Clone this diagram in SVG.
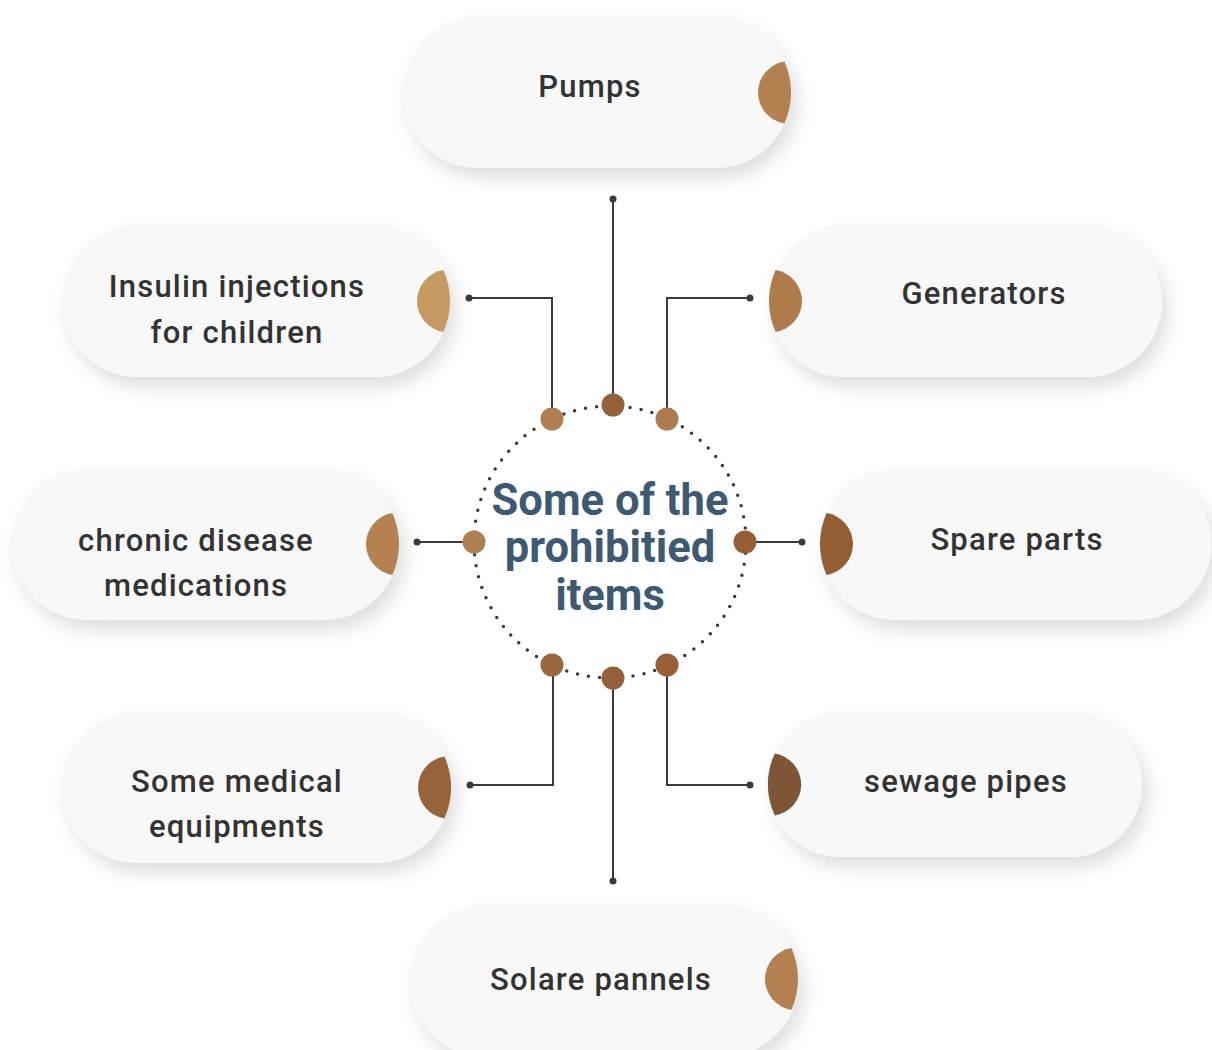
<svg xmlns="http://www.w3.org/2000/svg" width="1212" height="1050" viewBox="0 0 1212 1050">
<defs>
<filter id="sh" x="-20%" y="-30%" width="140%" height="170%">
<feDropShadow dx="6" dy="10" stdDeviation="9" flood-color="#000" flood-opacity="0.13"/>
</filter>
<style>
.pill{fill:#f8f8f8;filter:url(#sh);}
.lbl{font-family:Roboto,"Liberation Sans",sans-serif;font-weight:500;font-size:31px;fill:#333;text-anchor:middle;letter-spacing:1.2px;}
.title{font-family:Roboto,"Liberation Sans",sans-serif;font-weight:700;font-size:43.5px;fill:#3e5a72;text-anchor:middle;}
.ln{fill:none;stroke:#3b3b3b;stroke-width:2;}
.end{fill:#3b3b3b;}
.ring{fill:none;stroke:#3b3b3b;stroke-width:3.5;stroke-dasharray:0 11.2;stroke-linecap:round;}
</style>
</defs>
<rect width="1212" height="1050" fill="#ffffff"/>

<g id="node-pumps">
<rect class="pill" x="403" y="17" width="388" height="151" rx="75.5"/>
<path d="M784.4,61.5 A31.4,31.4 0 0 0 784.4,123.5 A75.5,75.5 0 0 0 784.4,61.5 Z" fill="#b3814f"/>
<text class="lbl" x="590" y="97">Pumps</text>
</g>

<g id="node-insulin">
<rect class="pill" x="62" y="225" width="388" height="152" rx="76"/>
<path d="M443.4,270 A31.4,31.4 0 0 0 443.4,332 A76,76 0 0 0 443.4,270 Z" fill="#c69b63"/>
<text class="lbl" x="237" y="297">Insulin injections</text>
<text class="lbl" x="237" y="343">for children</text>
</g>

<g id="node-generators">
<rect class="pill" x="769" y="225" width="393" height="152" rx="76"/>
<path d="M775.6,270 A31.4,31.4 0 0 1 775.6,332 A76,76 0 0 1 775.6,270 Z" fill="#ae7b4a"/>
<text class="lbl" x="984" y="304">Generators</text>
</g>

<g id="node-chronic">
<rect class="pill" x="12" y="468" width="387" height="152" rx="76"/>
<path d="M392.4,513 A31.4,31.4 0 0 0 392.4,575 A76,76 0 0 0 392.4,513 Z" fill="#b3824f"/>
<text class="lbl" x="196" y="551">chronic disease</text>
<text class="lbl" x="196" y="596">medications</text>
</g>

<g id="node-spare">
<rect class="pill" x="820" y="468" width="391" height="152" rx="76"/>
<path d="M826.6,513 A31.4,31.4 0 0 1 826.6,575 A76,76 0 0 1 826.6,513 Z" fill="#935e33"/>
<text class="lbl" x="1017" y="550">Spare parts</text>
</g>

<g id="node-medical">
<rect class="pill" x="62" y="712" width="389" height="151" rx="75.5"/>
<path d="M444.4,756.5 A31.4,31.4 0 0 0 444.4,818.5 A75.5,75.5 0 0 0 444.4,756.5 Z" fill="#97643a"/>
<text class="lbl" x="237" y="792">Some medical</text>
<text class="lbl" x="237" y="837">equipments</text>
</g>

<g id="node-sewage">
<rect class="pill" x="768" y="712" width="374" height="145" rx="72.5"/>
<path d="M774.8,753.5 A31.4,31.4 0 0 1 774.8,815.5 A72.5,72.5 0 0 1 774.8,753.5 Z" fill="#7e5636"/>
<text class="lbl" x="966" y="792">sewage pipes</text>
</g>

<g id="node-solar">
<rect class="pill" x="410" y="905" width="388" height="152" rx="76"/>
<path d="M791.4,948 A31.4,31.4 0 0 0 791.4,1010 A76,76 0 0 0 791.4,948 Z" fill="#b3814f"/>
<text class="lbl" x="601" y="990">Solare pannels</text>
</g>

<g id="connectors">
<path class="ln" d="M613,405 V199"/>
<circle class="end" cx="613" cy="199" r="3.5"/>
<path class="ln" d="M552,419 V298 H469"/>
<circle class="end" cx="469" cy="298" r="3.5"/>
<path class="ln" d="M667,419 V298 H750"/>
<circle class="end" cx="750" cy="298" r="3.5"/>
<path class="ln" d="M474,542 H417"/>
<circle class="end" cx="417" cy="542" r="3.5"/>
<path class="ln" d="M745,542 H802"/>
<circle class="end" cx="802" cy="542" r="3.5"/>
<path class="ln" d="M553,665 V785 H470"/>
<circle class="end" cx="470" cy="785" r="3.5"/>
<path class="ln" d="M667,665 V785 H750"/>
<circle class="end" cx="750" cy="785" r="3.5"/>
<path class="ln" d="M613,678 V881"/>
<circle class="end" cx="613" cy="881" r="3.5"/>
</g>

<g id="center">
<circle class="ring" cx="610" cy="542" r="136"/>
<circle cx="552" cy="419" r="11.5" fill="#ae7f50"/>
<circle cx="613" cy="405" r="11.5" fill="#93603a"/>
<circle cx="667" cy="419" r="11.5" fill="#ad7c4e"/>
<circle cx="474" cy="542" r="11.5" fill="#ae7f4f"/>
<circle cx="745" cy="542" r="11.5" fill="#955f35"/>
<circle cx="552" cy="665" r="11.5" fill="#9c673d"/>
<circle cx="613" cy="678" r="11.5" fill="#93603a"/>
<circle cx="667" cy="665" r="11.5" fill="#965f35"/>
<text class="title" x="610" y="515">Some of the</text>
<text class="title" x="610" y="562">prohibitied</text>
<text class="title" x="610" y="610">items</text>
</g>
</svg>
